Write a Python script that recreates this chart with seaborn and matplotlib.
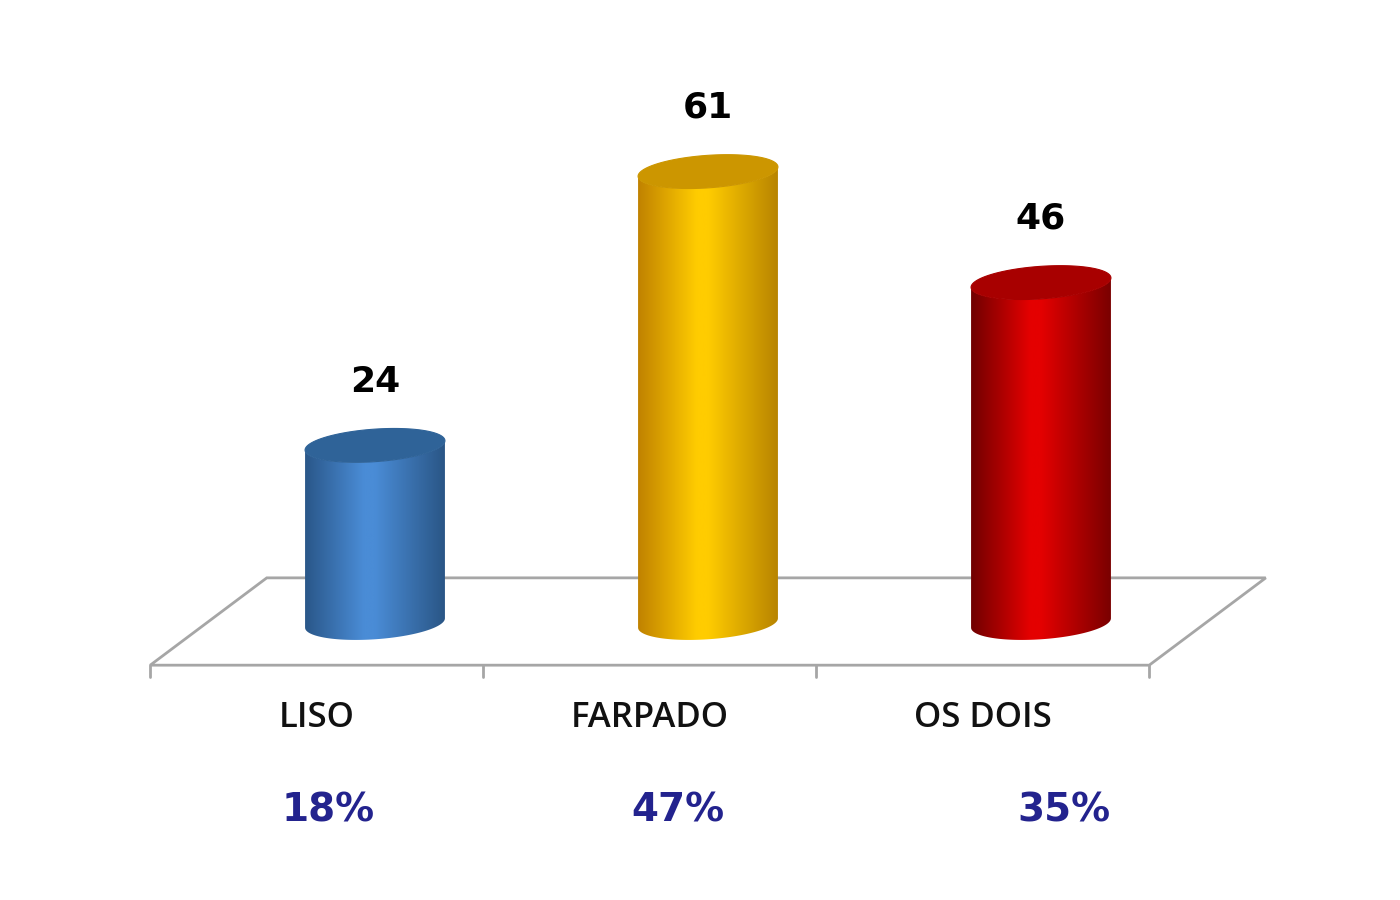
import numpy as np
import seaborn as sns
import matplotlib
matplotlib.use("Agg")
import matplotlib.pyplot as plt
from matplotlib.patches import Polygon
from matplotlib.colors import LinearSegmentedColormap

sns.set_theme(style="white")

# === Data ===
categories = ["LISO", "FARPADO", "OS DOIS"]
counts = [24, 61, 46]
percents = ["18%", "47%", "35%"]

# cylinder shading: left edge, highlight, right edge, top cap
shades = {
    "LISO": ["#2a5789", "#4a8cd6", "#2a5686", "#2f6398"],
    "FARPADO": ["#c08200", "#ffcc00", "#b88400", "#cc9600"],
    "OS DOIS": ["#700000", "#e40000", "#7a0000", "#a80000"],
}
palette = {c: shades[c][1] for c in categories}

# === Layout (category units horizontally, count units vertically) ===
bar_w = 0.42
cap_h = 2.2        # half height of the elliptic caps
tilt = 3.0         # caps lean up to the right
depth = 0.175      # half depth of the floor
floor_front, floor_back = -5.7, 6.1
pct_dx = [-0.14, -0.09, 0.07]

fig = plt.figure(figsize=(14, 9), dpi=100)
ax = fig.add_axes([0, 0, 1, 1])

sns.barplot(x=categories, y=counts, hue=categories, palette=palette,
            width=bar_w, legend=False, ax=ax)

# --- floor ---
n = len(categories)
x0, x1 = -0.5 - depth, n - 0.5 - depth
floor = Polygon([(x0, floor_front), (x1, floor_front),
                 (x1 + 2 * depth, floor_back), (x0 + 2 * depth, floor_back)],
                closed=True, facecolor="white", edgecolor="#a6a6a6", lw=2, zorder=1)
ax.add_patch(floor)
for k in range(n + 1):
    xt = x0 + k
    ax.plot([xt, xt], [floor_front, floor_front - 1.6], color="#a6a6a6", lw=2, zorder=1)

# --- cylinders drawn over the seaborn bars ---
for i, (p, cat) in enumerate(zip(ax.patches, categories)):
    p.set_alpha(0)
    cx = p.get_x() + p.get_width() / 2
    a = p.get_width() / 2
    h = p.get_height()
    dark_l, light, dark_r, top_c = shades[cat]

    t_low = np.linspace(np.pi, 2 * np.pi, 80)
    xb = cx + a * np.cos(t_low)
    yb = cap_h * np.sin(t_low) + tilt * (xb - cx)
    xt_ = xb[::-1]
    yt_ = h + cap_h * np.sin(t_low)[::-1] + tilt * (xt_ - cx)
    body = Polygon(np.column_stack([np.r_[xb, xt_], np.r_[yb, yt_]]),
                   closed=True, facecolor="none", edgecolor="none", zorder=3)
    ax.add_patch(body)

    cmap = LinearSegmentedColormap.from_list(
        cat, [(0, dark_l), (0.42, light), (0.5, light), (1, dark_r)])
    grad = np.linspace(0, 1, 256)[None, :]
    im = ax.imshow(grad, cmap=cmap, aspect="auto", zorder=3,
                   extent=[cx - a, cx + a, -cap_h - tilt * a - 1, h + cap_h + tilt * a + 1])
    im.set_clip_path(body)

    t_all = np.linspace(0, 2 * np.pi, 160)
    xc = cx + a * np.cos(t_all)
    yc = h + cap_h * np.sin(t_all) + tilt * (xc - cx)
    ax.add_patch(Polygon(np.column_stack([xc, yc]), closed=True,
                         facecolor=top_c, edgecolor=top_c, lw=0.8, zorder=4))

    ax.text(cx, h + 8.6, str(counts[i]), ha="center", va="center",
            fontsize=26, fontweight="bold", color="black",
            family=["DejaVu Sans"], zorder=5)
    ax.text(cx - depth, -12.8, cat, ha="center", va="center",
            fontsize=25, fontweight="semibold", color="#111111",
            family=["Open Sans", "DejaVu Sans"])
    ax.text(cx + pct_dx[i], -25.3, percents[i], ha="center", va="center",
            fontsize=28, fontweight="bold", color="#23238e", family=["DejaVu Sans"])

px_x, px_y = 333.0, 7.4
ax.set_xlim(-375 / px_x, (1400 - 375) / px_x)
ax.set_ylim(-277 / px_y, 623 / px_y)
ax.axis("off")

fig.savefig("out.png", dpi=100, facecolor="white")
plt.close(fig)
